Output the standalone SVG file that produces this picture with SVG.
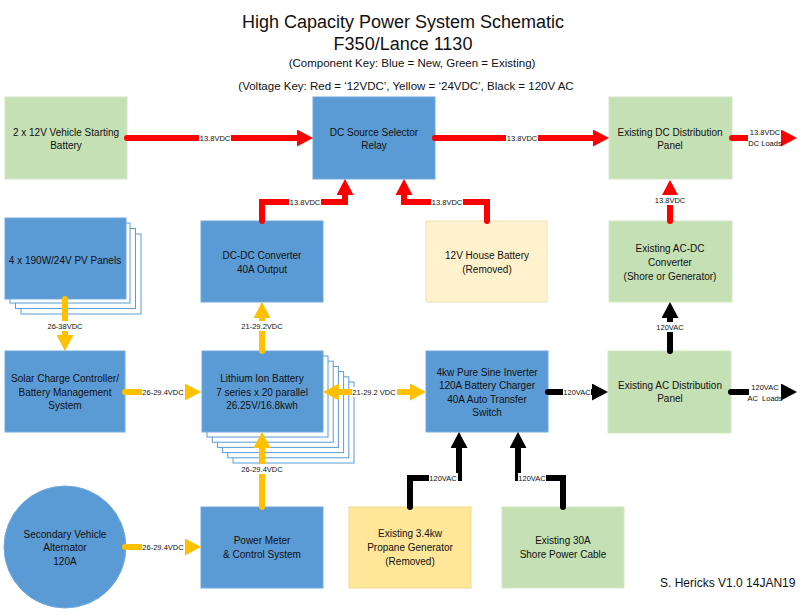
<svg xmlns="http://www.w3.org/2000/svg" width="800" height="615" viewBox="0 0 800 615">
<style>
text{font-family:"Liberation Sans",Arial,sans-serif;fill:#111}
.n{font-size:10px;text-anchor:middle}
.l{font-size:7.5px;text-anchor:middle}
.h{text-anchor:middle}
.blue{fill:#5b9bd5;stroke:#70a8dc;stroke-width:1}
.green{fill:#c5e0b4;stroke:#d3e8c6;stroke-width:1}
.cream{fill:#fff2cc;stroke:#eee0b8;stroke-width:1}
.gold{fill:#ffe699;stroke:#f0d98e;stroke-width:1}
.layer{fill:#fff;stroke:#5b9bd5;stroke-width:1}
.r,.y,.k{fill:none;stroke-width:6;stroke-linecap:round;stroke-linejoin:miter}
.r{stroke:#ff0000;marker-end:url(#ar)}
.y{stroke:#ffc000;marker-end:url(#ay)}
.k{stroke:#000;marker-end:url(#ak)}
.bg{fill:#fff}
</style>
<defs>
<marker id="ar" viewBox="0 0 16 17" markerWidth="16" markerHeight="17" markerUnits="userSpaceOnUse" refX="1" refY="8.5" orient="auto-start-reverse"><path d="M0,0 L16,8.5 L0,17 z" fill="#ff0000"/></marker>
<marker id="ay" viewBox="0 0 16 17" markerWidth="16" markerHeight="17" markerUnits="userSpaceOnUse" refX="1" refY="8.5" orient="auto-start-reverse"><path d="M0,0 L16,8.5 L0,17 z" fill="#ffc000"/></marker>
<marker id="ak" viewBox="0 0 16 17" markerWidth="16" markerHeight="17" markerUnits="userSpaceOnUse" refX="1" refY="8.5" orient="auto-start-reverse"><path d="M0,0 L16,8.5 L0,17 z" fill="#000"/></marker>
</defs>
<rect width="800" height="615" fill="#fff"/>
<g id="title">
<text class="h" x="403" y="28" font-size="18">High Capacity Power System Schematic</text>
<text class="h" x="403" y="50" font-size="18">F350/Lance 1130</text>
<text class="h" x="412" y="67" font-size="11.5">(Component Key: Blue = New, Green = Existing)</text>
<text class="h" x="406" y="90" font-size="11.5">(Voltage Key: Red = ‘12VDC’, Yellow = ‘24VDC’, Black = 120V AC</text>
</g>
<g id="starting-battery"><rect class="green" x="5" y="97" width="122" height="82"/><text class="n" x="66" y="135.5">2 x 12V Vehicle Starting</text><text class="n" x="66" y="148.5">Battery</text></g>
<g id="dc-selector"><rect class="blue" x="313" y="97" width="122" height="82"/><text class="n" x="374" y="135.5">DC Source Selector</text><text class="n" x="374" y="148.5">Relay</text></g>
<g id="dc-dist"><rect class="green" x="609" y="97" width="123" height="82"/><text class="n" x="670" y="135.5">Existing DC Distribution</text><text class="n" x="670" y="148.5">Panel</text></g>
<g id="pv-panels">
<rect class="layer" x="21" y="234" width="120" height="80"/>
<rect class="layer" x="15.5" y="228.5" width="120" height="80"/>
<rect class="layer" x="10" y="223" width="120" height="80"/>
<rect class="blue" x="5" y="218" width="121" height="81"/><text class="n" x="65" y="263.5">4 x 190W/24V PV Panels</text></g>
<g id="dcdc"><rect class="blue" x="201" y="221" width="122" height="81"/><text class="n" x="262" y="258.5">DC-DC Converter</text><text class="n" x="262" y="272.5">40A Output</text></g>
<g id="house-battery"><rect class="cream" x="426" y="221" width="121" height="81"/><text class="n" x="487" y="258.5">12V House Battery</text><text class="n" x="487" y="272.5">(Removed)</text></g>
<g id="acdc"><rect class="green" x="609" y="221" width="123" height="81"/><text class="n" x="670" y="251.5">Existing AC-DC</text><text class="n" x="670" y="265.5">Converter</text><text class="n" x="670" y="279.5">(Shore or Generator)</text></g>
<g id="solar-controller"><rect class="blue" x="5" y="351" width="120" height="81"/><text class="n" x="65" y="381.5">Solar Charge Controller/</text><text class="n" x="65" y="395.5">Battery Management</text><text class="n" x="65" y="408.5">System</text></g>
<g id="lithium-battery">
<rect class="layer" x="233" y="382" width="121" height="81"/>
<rect class="layer" x="227.8" y="376.8" width="121" height="81"/>
<rect class="layer" x="222.6" y="371.6" width="121" height="81"/>
<rect class="layer" x="217.4" y="366.4" width="121" height="81"/>
<rect class="layer" x="212.2" y="361.2" width="121" height="81"/>
<rect class="layer" x="207" y="356" width="121" height="81"/>
<rect class="blue" x="202" y="351" width="121" height="81"/><text class="n" x="262" y="381.5">Lithium Ion Battery</text><text class="n" x="262" y="395.5">7 series x 20 parallel</text><text class="n" x="262" y="408.5">26.25V/16.8kwh</text></g>
<g id="inverter"><rect class="blue" x="426" y="351" width="122" height="81"/><text class="n" x="487" y="375.5">4kw Pure Sine Inverter</text><text class="n" x="487" y="388.5">120A Battery Charger</text><text class="n" x="487" y="402.5">40A Auto Transfer</text><text class="n" x="487" y="415.5">Switch</text></g>
<g id="ac-dist"><rect class="green" x="608" y="351" width="123" height="82"/><text class="n" x="670" y="388.5">Existing AC Distribution</text><text class="n" x="670" y="401.5">Panel</text></g>
<g id="alternator"><circle class="blue" cx="65" cy="547" r="61"/><text class="n" x="65" y="537.5">Secondary Vehicle</text><text class="n" x="65" y="550.5">Alternator</text><text class="n" x="65" y="564.5">120A</text></g>
<g id="power-meter"><rect class="blue" x="201" y="507" width="122" height="81"/><text class="n" x="262" y="543.5">Power Meter</text><text class="n" x="262" y="557.5">&amp; Control System</text></g>
<g id="generator"><rect class="gold" x="349" y="507" width="122" height="81"/><text class="n" x="410" y="536.5">Existing 3.4kw</text><text class="n" x="410" y="550.5">Propane Generator</text><text class="n" x="410" y="564.5">(Removed)</text></g>
<g id="shore"><rect class="green" x="502" y="507" width="122" height="81"/><text class="n" x="563" y="543.5">Existing 30A</text><text class="n" x="563" y="557.5">Shore Power Cable</text></g>
<g id="connectors">
<path class="r" d="M127,138 H298"/>
<path class="r" d="M435,138 H594"/>
<path class="r" d="M732,138 H782"/>
<path class="r" d="M262,221 V202 H345 V194"/>
<path class="r" d="M487,221 V202 H404 V194"/>
<path class="r" d="M670,221 V195"/>
<path class="y" d="M65,299 V336"/>
<path class="y" d="M125,392 H186"/>
<path class="y" d="M262,351 V317"/>
<path class="y" d="M338,392 H411" style="marker-start:url(#ay)"/>
<path class="y" d="M262,507 V447"/>
<path class="y" d="M125,547 H186"/>
<path class="k" d="M548,392 H593"/>
<path class="k" d="M731,392 H782"/>
<path class="k" d="M670,351 V317"/>
<path class="k" d="M410,507 V478 H459 V447"/>
<path class="k" d="M563,507 V478 H518 V447"/>
<g id="labels">
<rect class="bg" x="199" y="133" width="32" height="10"/><text class="l" x="215" y="140.7">13.8VDC</text>
<rect class="bg" x="506" y="133" width="32" height="10"/><text class="l" x="522" y="140.7">13.8VDC</text>
<rect class="bg" x="748" y="126" width="33" height="22"/><text class="l" x="765" y="134.5">13.8VDC</text><text class="l" x="765" y="146">DC Loads</text>
<rect class="bg" x="289" y="197" width="32" height="10"/><text class="l" x="305" y="204.7">13.8VDC</text>
<rect class="bg" x="431" y="197" width="32" height="10"/><text class="l" x="447" y="204.7">13.8VDC</text>
<rect class="bg" x="654" y="195" width="32" height="10"/><text class="l" x="670" y="202.7">13.8VDC</text>
<rect class="bg" x="47" y="321" width="36" height="10"/><text class="l" x="65" y="328.7">26-38VDC</text>
<rect class="bg" x="142" y="387" width="43" height="10"/><text class="l" x="163" y="394.7">26-29.4VDC</text>
<rect class="bg" x="241" y="321" width="42" height="10"/><text class="l" x="262" y="328.7">21-29.2VDC</text>
<rect class="bg" x="352" y="387" width="45" height="10"/><text class="l" x="374" y="394.7">21-29.2 VDC</text>
<rect class="bg" x="241" y="464" width="42" height="10"/><text class="l" x="262" y="471.7">26-29.4VDC</text>
<rect class="bg" x="142" y="542" width="43" height="10"/><text class="l" x="163" y="549.7">26-29.4VDC</text>
<rect class="bg" x="563" y="387" width="28" height="10"/><text class="l" x="577" y="394.7">120VAC</text>
<rect class="bg" x="749" y="381" width="32" height="22"/><text class="l" x="765" y="389.5" style="white-space:pre">120VAC</text><text class="l" x="765" y="401" style="white-space:pre">AC  Loads</text>
<rect class="bg" x="656" y="322" width="28" height="10"/><text class="l" x="670" y="329.7">120VAC</text>
<rect class="bg" x="429" y="473" width="29" height="10"/><text class="l" x="443" y="480.7">120VAC</text>
<rect class="bg" x="518" y="473" width="28" height="10"/><text class="l" x="532" y="480.7">120VAC</text>
</g>
</g>
<text x="660" y="587" font-size="12">S. Hericks V1.0 14JAN19</text>
</svg>
